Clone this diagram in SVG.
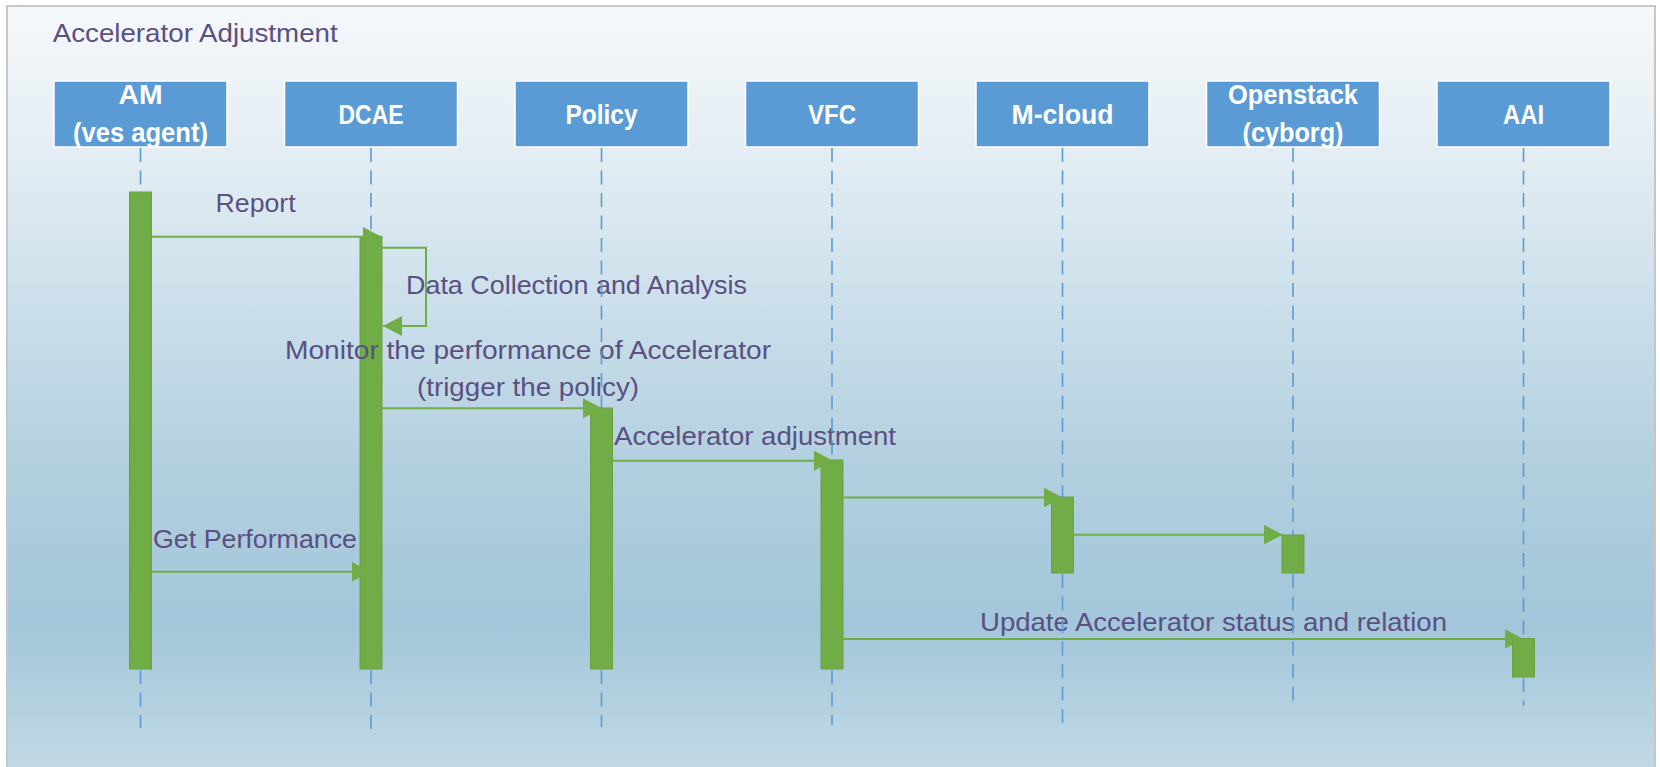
<svg xmlns="http://www.w3.org/2000/svg" width="1660" height="767" viewBox="0 0 1660 767">
<defs>
<linearGradient id="bg" x1="0" y1="0" x2="0" y2="1">
<stop offset="0" stop-color="#f5f8fb"/>
<stop offset="0.15" stop-color="#e8f0f5"/>
<stop offset="0.35" stop-color="#d0e2ec"/>
<stop offset="0.6" stop-color="#b2cfdf"/>
<stop offset="0.8" stop-color="#a3c6da"/>
<stop offset="1" stop-color="#c3dae5"/>
</linearGradient>
<marker id="ah" markerWidth="19" markerHeight="20" refX="19" refY="10" orient="auto" markerUnits="userSpaceOnUse">
<path d="M0,0 L19,10 L0,20 Z" fill="#70ad47"/>
</marker>
<style>
.box{fill:#5b9bd5;stroke:#ffffff;stroke-width:1.5}
.bt{font-family:"Liberation Sans Narrow","Liberation Sans",Arial,sans-serif;font-weight:bold;font-size:27px;fill:#ffffff;text-anchor:middle}
.bar{fill:#70ad47;stroke:#6a9f43;stroke-width:1}
.life{stroke:#5b9bd5;stroke-width:1.6;stroke-dasharray:14 8.5;fill:none}
.msg{stroke:#70ad47;stroke-width:2;fill:none}
.lbl{font-family:"Liberation Sans Narrow","Liberation Sans",Arial,sans-serif;font-size:25px;fill:#5a5082}
</style>
</defs>
<rect x="7" y="6" width="1648" height="772" fill="url(#bg)" stroke="#c6c6c6" stroke-width="2"/>
<text class="lbl" x="52.7" y="41.7" font-size="26.5" textLength="285" lengthAdjust="spacingAndGlyphs">Accelerator Adjustment</text>

<g id="node-am">
<rect class="box" x="54" y="81" width="173" height="66"/>
<text class="bt" x="140.5" y="104.3" textLength="44" lengthAdjust="spacingAndGlyphs">AM</text>
<text class="bt" x="140.5" y="141.5" textLength="135" lengthAdjust="spacingAndGlyphs">(ves agent)</text>
<rect class="bar" x="129.5" y="192" width="22" height="477"/>
</g>
<g id="node-dcae">
<rect class="box" x="284.5" y="81" width="173" height="66"/>
<text class="bt" x="371" y="124" textLength="65" lengthAdjust="spacingAndGlyphs">DCAE</text>
<rect class="bar" x="360" y="236.5" width="22" height="432.5"/>
</g>
<g id="node-policy">
<rect class="box" x="515" y="81" width="173" height="66"/>
<text class="bt" x="601.5" y="124" textLength="72" lengthAdjust="spacingAndGlyphs">Policy</text>
<rect class="bar" x="590.5" y="408" width="22" height="261"/>
</g>
<g id="node-vfc">
<rect class="box" x="745.5" y="81" width="173" height="66"/>
<text class="bt" x="832" y="124" textLength="48" lengthAdjust="spacingAndGlyphs">VFC</text>
<rect class="bar" x="821" y="460" width="22" height="209"/>
</g>
<g id="node-mcloud">
<rect class="box" x="976" y="81" width="173" height="66"/>
<text class="bt" x="1062.5" y="124" textLength="102" lengthAdjust="spacingAndGlyphs">M-cloud</text>
<rect class="bar" x="1051.5" y="497" width="22" height="76"/>
</g>
<g id="node-openstack">
<rect class="box" x="1206.5" y="81" width="173" height="66"/>
<text class="bt" x="1293" y="104.3" textLength="130" lengthAdjust="spacingAndGlyphs">Openstack</text>
<text class="bt" x="1293" y="141.5" textLength="101" lengthAdjust="spacingAndGlyphs">(cyborg)</text>
<rect class="bar" x="1282" y="535" width="22" height="38"/>
</g>
<g id="node-aai">
<rect class="box" x="1437" y="81" width="173" height="66"/>
<text class="bt" x="1523.5" y="124" textLength="41" lengthAdjust="spacingAndGlyphs">AAI</text>
<rect class="bar" x="1512.5" y="638.5" width="22" height="38.5"/>
</g>

<g id="connectors">
<line class="msg" x1="151" y1="236.7" x2="381.5" y2="236.7" marker-end="url(#ah)"/>
<path class="msg" d="M382,247.7 H426 V326 H383" marker-end="url(#ah)"/>
<line class="msg" x1="382" y1="408.3" x2="602" y2="408.3" marker-end="url(#ah)"/>
<line class="msg" x1="612.5" y1="460.7" x2="833" y2="460.7" marker-end="url(#ah)"/>
<line class="msg" x1="843" y1="497.5" x2="1062.5" y2="497.5" marker-end="url(#ah)"/>
<line class="msg" x1="1073.5" y1="534.7" x2="1282.5" y2="534.7" marker-end="url(#ah)"/>
<line class="msg" x1="151.5" y1="571.7" x2="370.5" y2="571.7" marker-end="url(#ah)"/>
<line class="msg" x1="843" y1="639" x2="1523.5" y2="639" marker-end="url(#ah)"/>
<text class="lbl" x="215.6" y="212.3" textLength="80" lengthAdjust="spacingAndGlyphs">Report</text>
<text class="lbl" x="406" y="294.3" textLength="341" lengthAdjust="spacingAndGlyphs">Data Collection and Analysis</text>
<text class="lbl" x="285" y="359.3" textLength="486" lengthAdjust="spacingAndGlyphs">Monitor the performance of Accelerator</text>
<text class="lbl" x="417" y="396" textLength="222" lengthAdjust="spacingAndGlyphs">(trigger the policy)</text>
<text class="lbl" x="614" y="445" textLength="282" lengthAdjust="spacingAndGlyphs">Accelerator adjustment</text>
<text class="lbl" x="153" y="548.3" textLength="204" lengthAdjust="spacingAndGlyphs">Get Performance</text>
<text class="lbl" x="980" y="630.7" textLength="467" lengthAdjust="spacingAndGlyphs">Update Accelerator status and relation</text>
</g>

<g id="lifelines">
<path class="life" d="M140.5,148 V192 M140.5,670 V728"/>
<path class="life" d="M371,148 V236 M371,670 V730"/>
<path class="life" d="M601.5,148 V408 M601.5,670 V727"/>
<path class="life" d="M832,148 V460 M832,670 V725"/>
<path class="life" d="M1062.5,148 V497 M1062.5,574 V729"/>
<path class="life" d="M1293,148 V535 M1293,574 V706"/>
<path class="life" d="M1523.5,148 V638 M1523.5,678 V706"/>
</g>
</svg>
